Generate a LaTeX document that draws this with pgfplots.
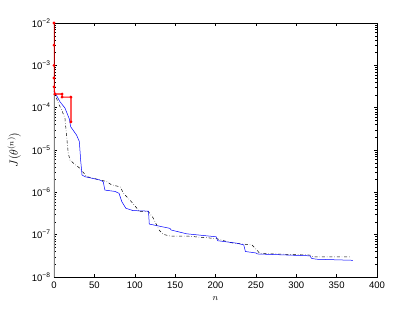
\documentclass[border=0pt]{standalone}
\usepackage{fontspec}
\setmainfont{Liberation Sans}
\usepackage{pgfplots}
\pgfplotsset{compat=1.18}
\begin{document}
\begin{tikzpicture}
\begin{axis}[
  scale only axis, width=323pt, height=254pt,
  xmin=0, xmax=400, ymode=log, ymin=1e-8, ymax=1e-2,
  xtick={0,50,...,400},
  ytick={1e-8,1e-7,1e-6,1e-5,1e-4,1e-3,1e-2},
  yticklabels={10\textsuperscript{−8},10\textsuperscript{−7},10\textsuperscript{−6},10\textsuperscript{−5},10\textsuperscript{−4},10\textsuperscript{−3},10\textsuperscript{−2}},
  xticklabel style={/pgf/number format/assume math mode=true, yshift=-1pt},
  tick label style={font=\fontsize{9.5}{11}\selectfont},
  tick align=inside, tick pos=both,
  major tick length=3.5pt, minor tick length=2pt,
  tick style={black, line width=0.4pt},
  axis line style={line width=0.5pt},
  xlabel={$n$}, ylabel={$J(\theta^{(n)})$},
  xlabel style={font=\small, yshift=-1pt},
  ylabel style={font=\large, yshift=4pt},
]
\addplot[gray, line width=1.4pt] coordinates {(0,1e-8) (0,3e-4)};
\addplot[black, dash dot, line width=0.5pt] coordinates {
(0,2.5e-4) (5.4,1.26e-4) (9.5,8.9e-5) (13.6,5.6e-5) (15.7,2.0e-5) (17.7,8.3e-6)
(19.8,5.8e-6) (24,4.9e-6) (32,3.7e-6) (40.5,2.35e-6) (65,1.8e-6) (71.4,1.5e-6)
(82,1.35e-6) (86,9.5e-7) (92,7.2e-7) (98,5.4e-7) (106,3.5e-7) (117,3.5e-7)
(123,2.45e-7) (127,1.7e-7) (130,1.3e-7) (135,1.02e-7) (143.6,9.3e-8) (164,9.3e-8)
(181,8.7e-8) (201,8.1e-8) (207.6,7.4e-8) (222,6.3e-8) (234,6.0e-8) (245,5.75e-8)
(249,4.8e-8) (255,3.6e-8) (317,3.3e-8) (321,3.0e-8) (367,3.0e-8)};
\addplot[blue, line width=0.5pt] coordinates {
(0,2.5e-4) (7.4,1.38e-4) (13.6,9.8e-5) (19,5.4e-5) (20.6,3.55e-5) (28,2.24e-5)
(31.4,1.58e-5) (33,5.75e-6) (34.7,2.57e-6) (38.4,2.34e-6) (57,1.95e-6) (61,1.78e-6)
(63,1.13e-6) (75.6,1.05e-6) (80.5,9.5e-7) (84,6.0e-7) (89,4.2e-7) (98,3.7e-7)
(117,3.6e-7) (118,1.78e-7) (131,1.58e-7) (143.6,1.41e-7) (145,1.29e-7) (164,1.05e-7)
(201,8.9e-8) (202.6,7.2e-8) (226,6.3e-8) (235,5.75e-8) (237,4.0e-8) (250,3.7e-8)
(252,3.5e-8) (317,3.16e-8) (319,2.75e-8) (325,2.63e-8) (370,2.48e-8)};
\addplot[red, line width=1.1pt, mark=*, mark size=0.8pt] coordinates {
(0,1e-2) (0,3e-3) (0,1e-3) (0,5e-4) (0,3.1e-4) (1,2.1e-4) (10,2.1e-4) (10,1.78e-4) (21,1.78e-4) (21,4.6e-5)};
\end{axis}
\pgfresetboundingbox
\path[use as bounding box] ([shift={(-54pt,-35pt)}]current axis.south west) rectangle ([shift={(38pt,23pt)}]current axis.north east);
\end{tikzpicture}
\end{document}
